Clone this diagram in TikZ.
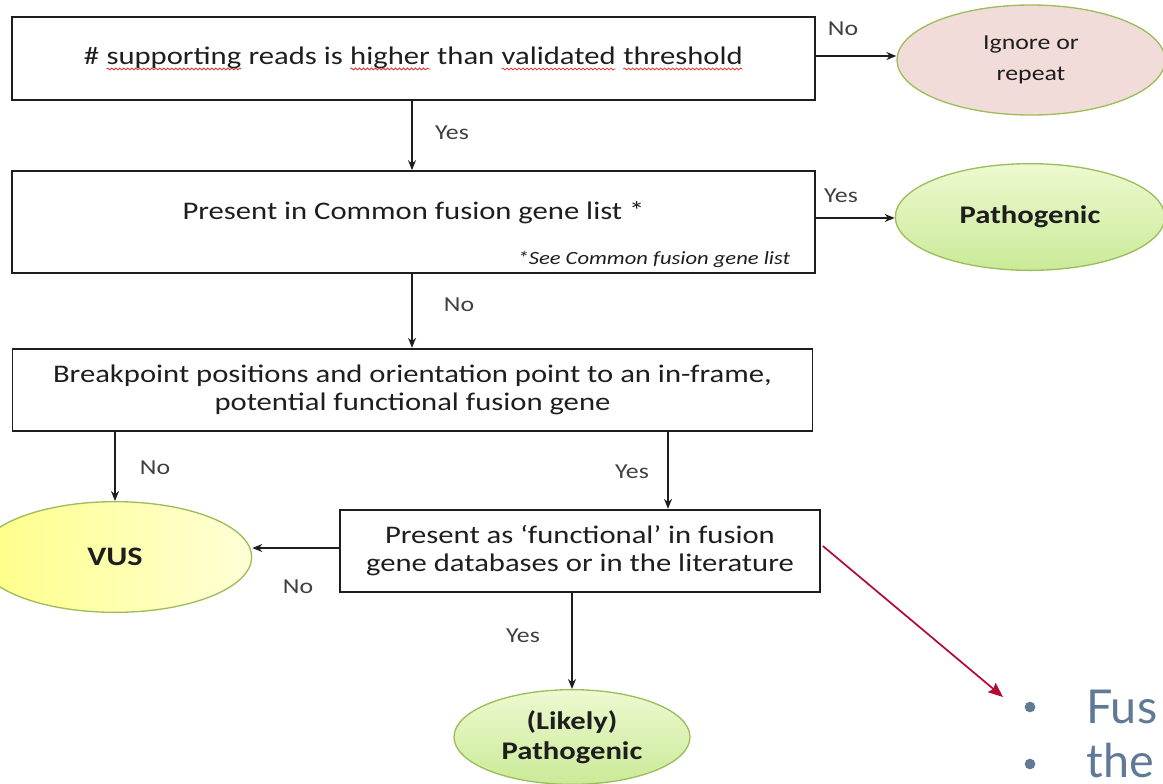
\documentclass[tikz,border=0pt]{standalone}
\usepackage{fontspec}
\setmainfont{Carlito}[FakeStretch=1.21]
\newfontfamily\slidefont{Lato}
\usetikzlibrary{arrows.meta,positioning,calc,shapes.geometric,decorations.pathmorphing}
\definecolor{ink}{RGB}{30,30,30}
\definecolor{rim}{RGB}{155,190,90}
\definecolor{rose}{RGB}{242,220,218}
\definecolor{leafT}{RGB}{238,249,208}
\definecolor{leafB}{RGB}{202,234,152}
\definecolor{lemonL}{RGB}{255,255,135}
\definecolor{lemonR}{RGB}{255,255,215}
\definecolor{wine}{RGB}{178,12,52}
\definecolor{slate}{RGB}{96,122,150}
\definecolor{squig}{RGB}{232,50,50}
\tikzset{
  qbox/.style={draw=ink,line width=1.3pt,minimum width=602pt,minimum height=62pt,
    inner sep=2pt,align=center,text=ink,font=\fontsize{19}{21}\selectfont},
  outc/.style={ellipse,draw=rim,line width=1pt,inner sep=0pt,align=center,text=ink},
  lbl/.style={font=\fontsize{16}{18}\selectfont,text=ink!85,inner sep=1pt},
  arr/.style={-{Stealth[length=7.5pt,width=6pt]},line width=1pt,ink},
  redarr/.style={-{Stealth[length=11pt,width=9pt,inset=1.5pt]},line width=1.3pt,wine},
  bul/.style={font=\slidefont\fontsize{35}{37}\selectfont,text=slate,inner sep=0pt},
  dot/.style={circle,fill=slate,minimum size=8pt,inner sep=0pt},
  plainword/.style={shape=rectangle,draw=none,fill=none,minimum width=0pt,
    minimum height=0pt,inner sep=0pt,outer sep=0pt},
  wavy/.style={squig,line width=0.6pt,decorate,
    decoration={snake,amplitude=0.7pt,segment length=3pt}},
}
% word with a red spelling squiggle under it
\newcommand{\spell}[1]{\tikz[baseline=(sw.base)]{%
  \node[plainword] (sw) {#1};
  \draw[wavy] ([yshift=-3.5pt]sw.base west) -- ([yshift=-3.5pt]sw.base east);}}

\begin{document}
\begin{tikzpicture}[x=0.75pt,y=-0.75pt]
\clip (0,0) rectangle (1163,783);
% decision boxes
\node[qbox] (reads) at (413.5,58.5)
  {\# \spell{supporting} reads is \spell{higher} than \spell{validated} \spell{threshold}};
\node[qbox,minimum height=76.5pt] (common) at (413.5,222) {};
\node[text=ink,font=\fontsize{19}{21}\selectfont] (commontxt) at (413.5,213)
  {Present in Common fusion gene list *};
\node[text=ink,font=\itshape\fontsize{14}{16}\selectfont,anchor=base east] (seenote) at (795,264)
  {*See Common fusion gene list};
\node[qbox,minimum width=600pt] (breakp) at (412.5,390)
  {Breakpoint positions and orientation point to an in-frame,\\ potential functional fusion gene};
\node[qbox,minimum width=360pt] (functional) at (580,551)
  {Present as ‘functional’ in fusion\\ gene databases or in the literature};
% outcomes
\node[outc,fill=rose,minimum width=201pt,minimum height=82.5pt,
  font=\fontsize{16}{23}\selectfont] (ignore) at (1031,60) {Ignore or\\ repeat};
\node[outc,top color=leafT,bottom color=leafB,minimum width=202pt,minimum height=80pt,
  font=\bfseries\fontsize{19}{21}\selectfont] (patho) at (1030,217) {Pathogenic};
\node[outc,left color=lemonL,right color=lemonR,minimum width=205pt,minimum height=83pt,
  font=\bfseries\fontsize{20}{22}\selectfont] (vus) at (115,557) {VUS};
\node[outc,top color=leafT,bottom color=leafB,minimum width=177pt,minimum height=71pt,
  font=\bfseries\fontsize{19}{22.5}\selectfont] (likely) at (572,737) {(Likely)\\ Pathogenic};
% connectors
\draw[arr] (reads.east |- 0,56) -- (ignore.west |- 0,56);
\draw[arr] (reads.south -| 412,0) -- (common.north -| 412,0);
\draw[arr] (common.east |- 0,218) -- (patho.west |- 0,218);
\draw[arr] (common.south -| 412,0) -- (breakp.north -| 412,0);
\draw[arr] (breakp.south -| vus.north) -- (vus.north);
\draw[arr] (breakp.south -| 668,0) -- (functional.north -| 668,0);
\draw[arr] (functional.west |- 0,548) -- (vus.east |- 0,548);
\draw[arr] (functional.south -| likely.north) -- (likely.north);
\node[lbl] (noA) at (843,29) {No};
\node[lbl] (yesA) at (452,133) {Yes};
\node[lbl] (yesB) at (841,196) {Yes};
\node[lbl] (noB) at (459,305) {No};
\node[lbl] (noC) at (155,468) {No};
\node[lbl] (yesC) at (632,472) {Yes};
\node[lbl] (noD) at (298,587) {No};
\node[lbl] (yesD) at (523,636) {Yes};
% pointer to the notes
\coordinate (fusTip) at (1003,697);
\draw[redarr] ([shift={(2,-5)}]functional.east) -- (fusTip);
\node[dot] (fusdot) at (1030,707) {};
\node[dot] (thedot) at (1030,764) {};
\node[bul,anchor=base west] (fus) at (1086,723) {Fus};
\node[bul,anchor=base west] (the) at (1086,777) {the};
\end{tikzpicture}
\end{document}
